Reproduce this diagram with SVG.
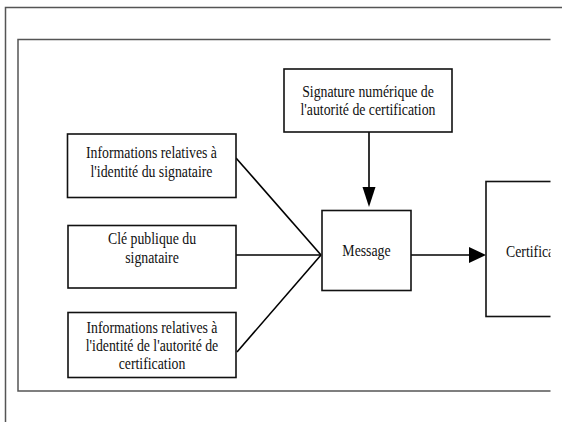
<svg xmlns="http://www.w3.org/2000/svg" width="562" height="422" viewBox="0 0 562 422">
<style>
.frame{fill:none;stroke:#555;stroke-width:1.5}
.box{fill:#fff;stroke:#111;stroke-width:1.6}
.conn{fill:none;stroke:#000;stroke-width:1.6}
.head{fill:#000;stroke:none}
.t{font-family:"Liberation Serif","Times New Roman",serif;font-size:13.8px;fill:#111;text-anchor:middle}
</style>
<defs>
<clipPath id="clip"><rect x="0" y="0" width="550.5" height="422"/></clipPath>
</defs>
<rect width="562" height="422" fill="#fff"/>
<g id="frames">
<polyline class="frame" points="562,7.5 5.5,7.5 5.5,422"/>
<polyline class="frame" points="550.5,39.5 18,39.5 18,391 550.5,391"/>
</g>
<g clip-path="url(#clip)">
<g id="connectors">
<line class="conn" x1="369" y1="132" x2="369" y2="190"/>
<polygon class="head" points="369,207 362.5,187 375.5,187"/>
<line class="conn" x1="236" y1="158" x2="321" y2="255"/>
<line class="conn" x1="236" y1="255" x2="321" y2="255"/>
<line class="conn" x1="237" y1="352" x2="321" y2="255"/>
<line class="conn" x1="411" y1="255" x2="472" y2="255"/>
<polygon class="head" points="486,255 469,247 469,263"/>
</g>
<g id="sig">
<rect class="box" x="284" y="69" width="168" height="63"/>
<text class="t" transform="translate(368,96.5) scale(1,1.25)">Signature numérique de</text>
<text class="t" transform="translate(368,115) scale(1,1.25)">l'autorité de certification</text>
</g>
<g id="info-sign">
<rect class="box" x="67.5" y="134" width="168.5" height="63.5"/>
<text class="t" transform="translate(151.5,158) scale(1,1.25)">Informations relatives à</text>
<text class="t" transform="translate(151.5,177) scale(1,1.25)">l'identité du signataire</text>
</g>
<g id="cle">
<rect class="box" x="68" y="225.5" width="168" height="62.5"/>
<text class="t" transform="translate(152,244) scale(1,1.25)">Clé publique du</text>
<text class="t" transform="translate(152,262.5) scale(1,1.25)">signataire</text>
</g>
<g id="info-ac">
<rect class="box" x="68" y="312.5" width="168" height="65"/>
<text class="t" transform="translate(152,333) scale(1,1.25)">Informations relatives à</text>
<text class="t" transform="translate(152,351) scale(1,1.25)">l'identité de l'autorité de</text>
<text class="t" transform="translate(152,369) scale(1,1.25)">certification</text>
</g>
<g id="message">
<rect class="box" x="322" y="210.5" width="89" height="80"/>
<text class="t" transform="translate(366.5,255.5) scale(1,1.25)">Message</text>
</g>
<g id="certificat">
<rect class="box" x="486" y="181.5" width="120" height="135"/>
<text class="t" style="text-anchor:start" transform="translate(506,257) scale(1,1.25)">Certificat</text>
</g>
</g>
</svg>
